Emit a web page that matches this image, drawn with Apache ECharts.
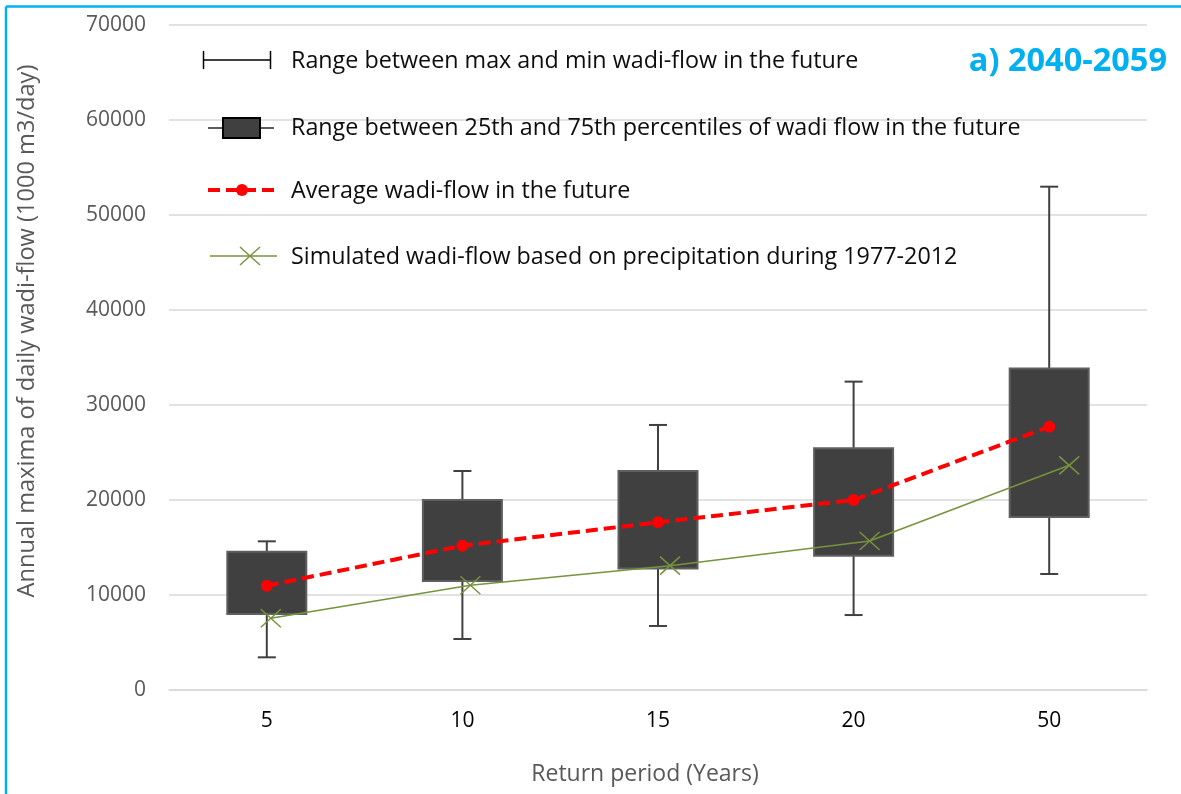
<!DOCTYPE html>
<html>
<head>
<meta charset="utf-8">
<script src="https://cdn.jsdelivr.net/npm/echarts@6/dist/echarts.min.js"></script>
<style>
html,body{margin:0;padding:0;background:#fff;}
#chart{width:1181px;height:794px;}
</style>
</head>
<body>
<div id="chart"></div>
<script>
// ---- data ----
var categories = ['5', '10', '15', '20', '50'];
var flowMin = [3440, 5370, 6740, 7890, 12210];
var flowQ1  = [8000, 11470, 12800, 14140, 18210];
var flowQ3  = [14560, 20000, 23050, 25440, 33830];
var flowMax = [15650, 23050, 27900, 32460, 52980];
var flowMean = [10980, 15190, 17650, 20000, 27720];
var flowSimulated = [7550, 11020, 13090, 15680, 23650];
var yTicks = [0, 10000, 20000, 30000, 40000, 50000, 60000, 70000];

var FONT = '"Open Sans", "DejaVu Sans", sans-serif';
var boxData = categories.map(function (c, i) {
  return [i, flowMin[i], flowQ1[i], flowQ3[i], flowMax[i]];
});
var simData = categories.map(function (c, i) { return [i, flowSimulated[i]]; });

var chart = echarts.init(document.getElementById('chart'), null, {renderer: 'canvas'});

var legendFont = '23.3px ' + FONT;
var legendColor = '#0d0d0d';
var legendX = 291;

var option = {
  animation: false,
  backgroundColor: '#ffffff',
  grid: [
    {left: 169, right: 34, top: 25, bottom: 104},
    {left: 171, right: 12, top: 25, bottom: 104}
  ],
  xAxis: [
    {
      type: 'category', gridIndex: 0, data: categories,
      axisLine: {show: true, lineStyle: {color: '#D9D9D9', width: 1.5}},
      axisTick: {show: false},
      axisLabel: {color: '#000000', fontFamily: FONT, fontSize: 21, margin: 21}
    },
    {
      type: 'category', gridIndex: 1, data: categories, show: false
    }
  ],
  yAxis: [
    {
      type: 'value', gridIndex: 0, min: yTicks[0], max: yTicks[yTicks.length - 1], interval: yTicks[1] - yTicks[0],
      axisLine: {show: false}, axisTick: {show: false},
      axisLabel: {color: '#595959', fontFamily: FONT, fontSize: 21, margin: 23,
                  formatter: function (v) { return String(v); }},
      splitLine: {lineStyle: {color: '#D9D9D9', width: 1.5}}
    },
    {
      type: 'value', gridIndex: 1, min: yTicks[0], max: yTicks[yTicks.length - 1], interval: yTicks[1] - yTicks[0], show: false
    }
  ],
  series: [
    {
      name: 'Range',
      type: 'custom',
      xAxisIndex: 0, yAxisIndex: 0,
      data: boxData,
      encode: {x: 0, y: [1, 2, 3, 4]},
      z: 2,
      renderItem: function (params, api) {
        var x = api.value(0);
        var pMin = api.coord([x, api.value(1)]);
        var pQ1 = api.coord([x, api.value(2)]);
        var pQ3 = api.coord([x, api.value(3)]);
        var pMax = api.coord([x, api.value(4)]);
        var bw = api.size([1, 0])[0] * 0.404;
        var cap = 9;
        var ws = {stroke: '#404040', lineWidth: 2};
        return {
          type: 'group',
          children: [
            {type: 'line', shape: {x1: pMax[0], y1: pMax[1], x2: pMin[0], y2: pMin[1]}, style: ws},
            {type: 'line', shape: {x1: pMax[0] - cap, y1: pMax[1], x2: pMax[0] + cap, y2: pMax[1]}, style: ws},
            {type: 'line', shape: {x1: pMin[0] - cap, y1: pMin[1], x2: pMin[0] + cap, y2: pMin[1]}, style: ws},
            {type: 'rect', shape: {x: pQ3[0] - bw / 2, y: pQ3[1], width: bw, height: pQ1[1] - pQ3[1]},
             style: {fill: '#404040', stroke: '#5f5f5f', lineWidth: 2}}
          ]
        };
      }
    },
    {
      name: 'Simulated',
      type: 'line',
      xAxisIndex: 1, yAxisIndex: 1,
      data: flowSimulated,
      showSymbol: false,
      z: 3,
      lineStyle: {color: '#77933C', width: 1.5}
    },
    {
      name: 'SimulatedMarkers',
      type: 'custom',
      xAxisIndex: 1, yAxisIndex: 1,
      data: simData,
      encode: {x: 0, y: 1},
      z: 4,
      renderItem: function (params, api) {
        var p = api.coord([api.value(0), api.value(1)]);
        var hw = 10, hh = 9;
        var st = {stroke: '#77933C', lineWidth: 1.5};
        return {
          type: 'group',
          children: [
            {type: 'line', shape: {x1: p[0] - hw, y1: p[1] - hh, x2: p[0] + hw, y2: p[1] + hh}, style: st},
            {type: 'line', shape: {x1: p[0] - hw, y1: p[1] + hh, x2: p[0] + hw, y2: p[1] - hh}, style: st}
          ]
        };
      }
    },
    {
      name: 'Average',
      type: 'line',
      xAxisIndex: 0, yAxisIndex: 0,
      data: flowMean,
      z: 5,
      symbol: 'circle',
      symbolSize: 12,
      itemStyle: {color: '#FF0000'},
      lineStyle: {color: '#FF0000', width: 4, type: [12, 6]}
    }
  ],
  graphic: [
    // frame
    {type: 'line', shape: {x1: 6, y1: 6.5, x2: 1181, y2: 6.5}, style: {stroke: '#00B0F0', lineWidth: 2.5}, z: 10},
    {type: 'line', shape: {x1: 6, y1: 6.5, x2: 6, y2: 794}, style: {stroke: '#00B0F0', lineWidth: 2.5}, z: 10},
    // panel title
    {type: 'text', x: 1167, y: 62, z: 10,
     style: {text: 'a) 2040-2059', font: 'bold 32.5px ' + FONT, fill: '#00B0F0', textAlign: 'right', textVerticalAlign: 'middle'}},
    // axis titles
    {type: 'text', x: 27, y: 331, rotation: Math.PI / 2, z: 10,
     style: {text: 'Annual maxima of daily wadi-flow (1000 m3/day)', font: '23.6px ' + FONT, fill: '#595959', textAlign: 'center', textVerticalAlign: 'middle'}},
    {type: 'text', x: 645, y: 774, z: 10,
     style: {text: 'Return period (Years)', font: '23px ' + FONT, fill: '#595959', textAlign: 'center', textVerticalAlign: 'middle'}},
    // legend row 1: max/min range
    {type: 'line', shape: {x1: 203, y1: 60, x2: 271, y2: 60}, style: {stroke: '#000', lineWidth: 1.5}, z: 10},
    {type: 'line', shape: {x1: 203.5, y1: 51, x2: 203.5, y2: 69}, style: {stroke: '#000', lineWidth: 1.5}, z: 10},
    {type: 'line', shape: {x1: 270.5, y1: 51, x2: 270.5, y2: 69}, style: {stroke: '#000', lineWidth: 1.5}, z: 10},
    {type: 'text', x: legendX, y: 61, z: 10,
     style: {text: 'Range between max and min wadi-flow in the future', font: legendFont, fill: legendColor, textVerticalAlign: 'middle'}},
    // legend row 2: percentile box
    {type: 'line', shape: {x1: 208, y1: 128, x2: 274, y2: 128}, style: {stroke: '#262626', lineWidth: 1.5}, z: 10},
    {type: 'rect', shape: {x: 223, y: 118, width: 37, height: 20}, style: {fill: '#404040', stroke: '#000', lineWidth: 2}, z: 11},
    {type: 'text', x: legendX, y: 128, z: 10,
     style: {text: 'Range between 25th and 75th percentiles of wadi flow in the future', font: legendFont, fill: legendColor, textVerticalAlign: 'middle'}},
    // legend row 3: average
    {type: 'line', shape: {x1: 208, y1: 190, x2: 275, y2: 190}, style: {stroke: '#FF0000', lineWidth: 4, lineDash: [12, 6]}, z: 10},
    {type: 'circle', shape: {cx: 242, cy: 190, r: 6}, style: {fill: '#FF0000'}, z: 11},
    {type: 'text', x: legendX, y: 191, z: 10,
     style: {text: 'Average wadi-flow in the future', font: legendFont, fill: legendColor, textVerticalAlign: 'middle'}},
    // legend row 4: simulated
    {type: 'line', shape: {x1: 210, y1: 256, x2: 277, y2: 256}, style: {stroke: '#77933C', lineWidth: 1.5}, z: 10},
    {type: 'line', shape: {x1: 240, y1: 247, x2: 260, y2: 265}, style: {stroke: '#77933C', lineWidth: 1.5}, z: 10},
    {type: 'line', shape: {x1: 240, y1: 265, x2: 260, y2: 247}, style: {stroke: '#77933C', lineWidth: 1.5}, z: 10},
    {type: 'text', x: legendX, y: 257, z: 10,
     style: {text: 'Simulated wadi-flow based on precipitation during 1977-2012', font: legendFont, fill: legendColor, textVerticalAlign: 'middle'}}
  ]
};
chart.setOption(option);
</script>
</body>
</html>
